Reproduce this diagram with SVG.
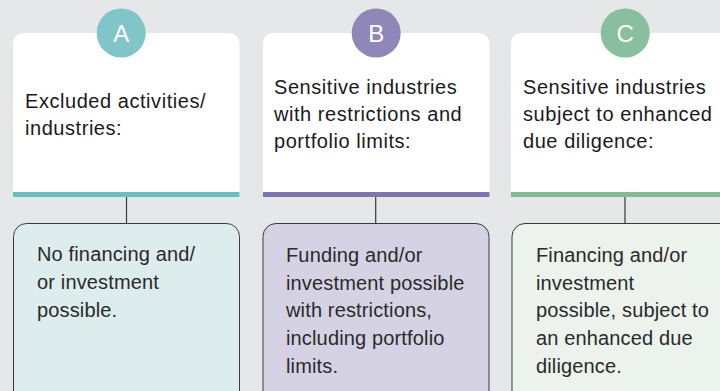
<svg xmlns="http://www.w3.org/2000/svg" width="720" height="391" viewBox="0 0 720 391">
<style>
.bg{fill:#e6e7e9}
.card{fill:#ffffff}
.hd{font-family:"Liberation Sans",Arial,sans-serif;font-size:20px;letter-spacing:0.55px;fill:#1a1a1a}
.bd{font-family:"Liberation Sans",Arial,sans-serif;font-size:20px;letter-spacing:0.15px;fill:#2a2a2a}
.lt{font-family:"Liberation Sans",Arial,sans-serif;font-size:24px;fill:#ffffff;text-anchor:middle}
.box{stroke:#3a3a3a;stroke-width:1}
.conn{stroke:#3a3a3a;stroke-width:1.2;fill:none}
</style>
<rect class="bg" x="0" y="0" width="720" height="391"/>
<g id="connectors">
<line class="conn" x1="126.5" y1="197" x2="126.5" y2="223"/>
<line class="conn" x1="375.7" y1="197" x2="375.7" y2="223"/>
<line class="conn" x1="625" y1="197" x2="625" y2="223"/>
</g>
<g id="nodeA">
<path class="card" d="M13 197 V45 Q13 33 25 33 H227 Q239.5 33 239.5 45 V197 Z"/>
<rect x="13" y="192" width="226.5" height="5" fill="#66bfc1"/>
<circle cx="121.2" cy="33" r="24.5" fill="#80c6c9"/>
<text class="lt" x="121.2" y="42">A</text>
<text class="hd" x="25" y="108">Excluded activities/</text>
<text class="hd" x="25" y="135">industries:</text>
</g>
<g id="nodeB">
<path class="card" d="M263 197 V45 Q263 33 275 33 H477 Q489.5 33 489.5 45 V197 Z"/>
<rect x="263" y="192" width="226.5" height="5" fill="#7f76ae"/>
<circle cx="376.2" cy="33" r="24.5" fill="#8e87b7"/>
<text class="lt" x="376.2" y="42">B</text>
<text class="hd" x="274" y="94">Sensitive industries</text>
<text class="hd" x="274" y="121">with restrictions and</text>
<text class="hd" x="274" y="148">portfolio limits:</text>
</g>
<g id="nodeC">
<path class="card" d="M511 197 V45 Q511 33 523 33 H730 V197 Z"/>
<rect x="511" y="192" width="220" height="5" fill="#80bb93"/>
<circle cx="625.2" cy="33" r="24.5" fill="#88bf9c"/>
<text class="lt" x="625.2" y="42">C</text>
<text class="hd" x="523" y="94">Sensitive industries</text>
<text class="hd" x="523" y="121">subject to enhanced</text>
<text class="hd" x="523" y="148">due diligence:</text>
</g>
<g id="resultA">
<rect class="box" x="13.5" y="223.5" width="226" height="190" rx="13" fill="#ddecec"/>
<text class="bd" x="37" y="261">No financing and/</text>
<text class="bd" x="37" y="289">or investment</text>
<text class="bd" x="37" y="317">possible.</text>
</g>
<g id="resultB">
<rect class="box" x="263" y="223.5" width="226" height="190" rx="13" fill="#d5d2e3"/>
<text class="bd" x="286" y="262">Funding and/or</text>
<text class="bd" x="286" y="289.5">investment possible</text>
<text class="bd" x="286" y="317">with restrictions,</text>
<text class="bd" x="286" y="345">including portfolio</text>
<text class="bd" x="286" y="373">limits.</text>
</g>
<g id="resultC">
<rect class="box" x="512" y="223.5" width="226" height="190" rx="13" fill="#ecf2ec"/>
<text class="bd" x="536" y="262">Financing and/or</text>
<text class="bd" x="536" y="289.5">investment</text>
<text class="bd" x="536" y="317">possible, subject to</text>
<text class="bd" x="536" y="345">an enhanced due</text>
<text class="bd" x="536" y="373">diligence.</text>
</g>
</svg>
